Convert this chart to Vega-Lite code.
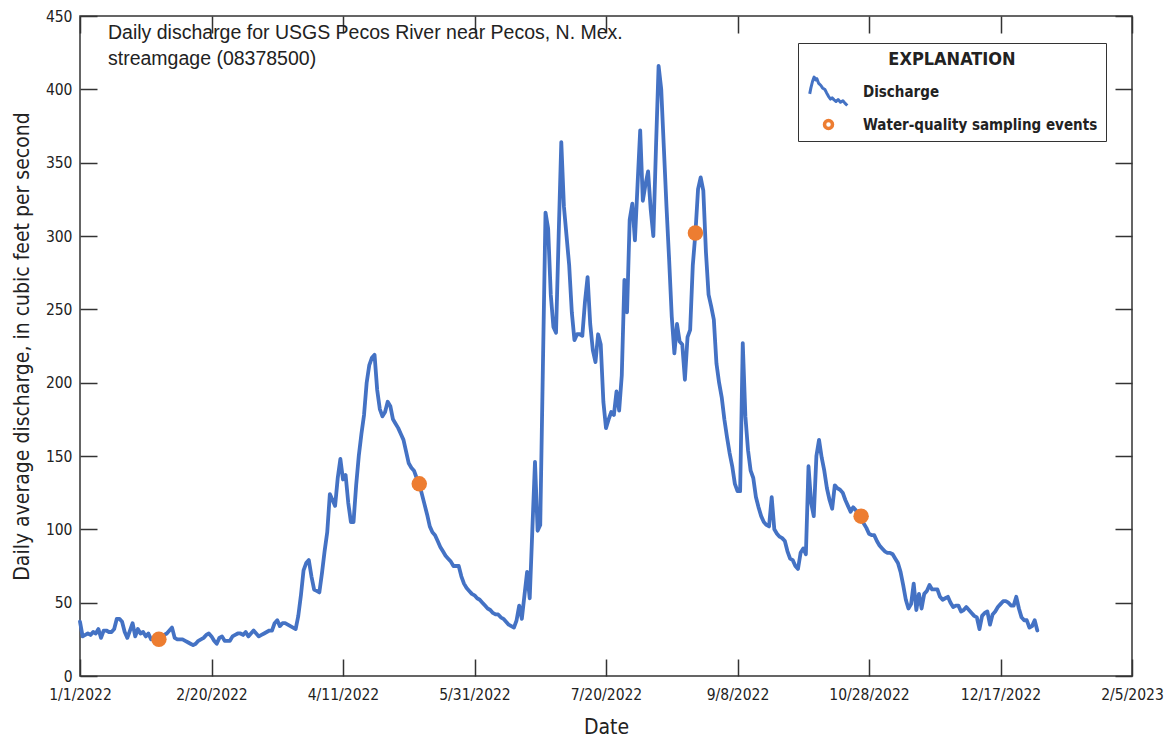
{
  "$schema": "https://vega.github.io/schema/vega-lite/v6.json",
  "width": 1052,
  "height": 660,
  "autosize": {"type": "none"},
  "padding": {"left": 80, "top": 16, "right": 32, "bottom": 62},
  "background": "white",
  "title": {
    "text": ["Daily discharge for USGS Pecos River near Pecos, N. Mex.", "streamgage (08378500)"],
    "anchor": "start",
    "frame": "group",
    "orient": "top",
    "offset": -60,
    "dx": 28,
    "baseline": "top",
    "font": "Liberation Sans",
    "fontSize": 19.5,
    "fontWeight": "normal",
    "color": "#222",
    "lineHeight": 26
  },
  "datasets": {
    "discharge": [
      {"date":"2022-01-01","cfs":37},{"date":"2022-01-02","cfs":27},{"date":"2022-01-03","cfs":28},{"date":"2022-01-04","cfs":29},{"date":"2022-01-05","cfs":28},{"date":"2022-01-06","cfs":30},{"date":"2022-01-07","cfs":29},{"date":"2022-01-08","cfs":32},{"date":"2022-01-09","cfs":26},{"date":"2022-01-10","cfs":31},{"date":"2022-01-11","cfs":31},{"date":"2022-01-12","cfs":30},{"date":"2022-01-13","cfs":30},{"date":"2022-01-14","cfs":32},{"date":"2022-01-15","cfs":39},{"date":"2022-01-16","cfs":39},{"date":"2022-01-17","cfs":37},{"date":"2022-01-18","cfs":30},{"date":"2022-01-19","cfs":26},{"date":"2022-01-20","cfs":31},{"date":"2022-01-21","cfs":36},{"date":"2022-01-22","cfs":27},{"date":"2022-01-23","cfs":32},{"date":"2022-01-24","cfs":29},{"date":"2022-01-25","cfs":30},{"date":"2022-01-26","cfs":27},{"date":"2022-01-27","cfs":29},{"date":"2022-01-28","cfs":25},{"date":"2022-01-29","cfs":26},{"date":"2022-01-30","cfs":25},{"date":"2022-01-31","cfs":25},
      {"date":"2022-02-01","cfs":26},{"date":"2022-02-02","cfs":28},{"date":"2022-02-03","cfs":29},{"date":"2022-02-04","cfs":31},{"date":"2022-02-05","cfs":33},{"date":"2022-02-06","cfs":26},{"date":"2022-02-07","cfs":25},{"date":"2022-02-08","cfs":25},{"date":"2022-02-09","cfs":25},{"date":"2022-02-10","cfs":24},{"date":"2022-02-11","cfs":23},{"date":"2022-02-12","cfs":22},{"date":"2022-02-13","cfs":21},{"date":"2022-02-14","cfs":22},{"date":"2022-02-15","cfs":24},{"date":"2022-02-16","cfs":25},{"date":"2022-02-17","cfs":26},{"date":"2022-02-18","cfs":28},{"date":"2022-02-19","cfs":29},{"date":"2022-02-20","cfs":27},{"date":"2022-02-21","cfs":24},{"date":"2022-02-22","cfs":22},{"date":"2022-02-23","cfs":26},{"date":"2022-02-24","cfs":27},{"date":"2022-02-25","cfs":24},{"date":"2022-02-26","cfs":24},{"date":"2022-02-27","cfs":24},{"date":"2022-02-28","cfs":27},
      {"date":"2022-03-01","cfs":28},{"date":"2022-03-02","cfs":29},{"date":"2022-03-03","cfs":29},{"date":"2022-03-04","cfs":28},{"date":"2022-03-05","cfs":30},{"date":"2022-03-06","cfs":27},{"date":"2022-03-07","cfs":29},{"date":"2022-03-08","cfs":31},{"date":"2022-03-09","cfs":29},{"date":"2022-03-10","cfs":27},{"date":"2022-03-11","cfs":28},{"date":"2022-03-12","cfs":29},{"date":"2022-03-13","cfs":30},{"date":"2022-03-14","cfs":31},{"date":"2022-03-15","cfs":31},{"date":"2022-03-16","cfs":36},{"date":"2022-03-17","cfs":38},{"date":"2022-03-18","cfs":34},{"date":"2022-03-19","cfs":36},{"date":"2022-03-20","cfs":36},{"date":"2022-03-21","cfs":35},{"date":"2022-03-22","cfs":34},{"date":"2022-03-23","cfs":33},{"date":"2022-03-24","cfs":32},{"date":"2022-03-25","cfs":41},{"date":"2022-03-26","cfs":55},{"date":"2022-03-27","cfs":72},{"date":"2022-03-28","cfs":77},{"date":"2022-03-29","cfs":79},{"date":"2022-03-30","cfs":68},{"date":"2022-03-31","cfs":59},
      {"date":"2022-04-01","cfs":58},{"date":"2022-04-02","cfs":57},{"date":"2022-04-03","cfs":70},{"date":"2022-04-04","cfs":85},{"date":"2022-04-05","cfs":98},{"date":"2022-04-06","cfs":124},{"date":"2022-04-07","cfs":120},{"date":"2022-04-08","cfs":116},{"date":"2022-04-09","cfs":135},{"date":"2022-04-10","cfs":148},{"date":"2022-04-11","cfs":134},{"date":"2022-04-12","cfs":137},{"date":"2022-04-13","cfs":118},{"date":"2022-04-14","cfs":105},{"date":"2022-04-15","cfs":105},{"date":"2022-04-16","cfs":130},{"date":"2022-04-17","cfs":150},{"date":"2022-04-18","cfs":165},{"date":"2022-04-19","cfs":178},{"date":"2022-04-20","cfs":200},{"date":"2022-04-21","cfs":212},{"date":"2022-04-22","cfs":217},{"date":"2022-04-23","cfs":219},{"date":"2022-04-24","cfs":195},{"date":"2022-04-25","cfs":182},{"date":"2022-04-26","cfs":177},{"date":"2022-04-27","cfs":180},{"date":"2022-04-28","cfs":187},{"date":"2022-04-29","cfs":184},{"date":"2022-04-30","cfs":175},
      {"date":"2022-05-01","cfs":172},{"date":"2022-05-02","cfs":169},{"date":"2022-05-03","cfs":165},{"date":"2022-05-04","cfs":161},{"date":"2022-05-05","cfs":153},{"date":"2022-05-06","cfs":145},{"date":"2022-05-07","cfs":142},{"date":"2022-05-08","cfs":140},{"date":"2022-05-09","cfs":135},{"date":"2022-05-10","cfs":131},{"date":"2022-05-11","cfs":124},{"date":"2022-05-12","cfs":117},{"date":"2022-05-13","cfs":110},{"date":"2022-05-14","cfs":102},{"date":"2022-05-15","cfs":98},{"date":"2022-05-16","cfs":96},{"date":"2022-05-17","cfs":92},{"date":"2022-05-18","cfs":88},{"date":"2022-05-19","cfs":85},{"date":"2022-05-20","cfs":82},{"date":"2022-05-21","cfs":80},{"date":"2022-05-22","cfs":78},{"date":"2022-05-23","cfs":75},{"date":"2022-05-24","cfs":75},{"date":"2022-05-25","cfs":75},{"date":"2022-05-26","cfs":68},{"date":"2022-05-27","cfs":63},{"date":"2022-05-28","cfs":60},{"date":"2022-05-29","cfs":58},{"date":"2022-05-30","cfs":56},{"date":"2022-05-31","cfs":55},
      {"date":"2022-06-01","cfs":53},{"date":"2022-06-02","cfs":52},{"date":"2022-06-03","cfs":50},{"date":"2022-06-04","cfs":48},{"date":"2022-06-05","cfs":46},{"date":"2022-06-06","cfs":45},{"date":"2022-06-07","cfs":43},{"date":"2022-06-08","cfs":42},{"date":"2022-06-09","cfs":42},{"date":"2022-06-10","cfs":40},{"date":"2022-06-11","cfs":39},{"date":"2022-06-12","cfs":37},{"date":"2022-06-13","cfs":35},{"date":"2022-06-14","cfs":34},{"date":"2022-06-15","cfs":33},{"date":"2022-06-16","cfs":38},{"date":"2022-06-17","cfs":48},{"date":"2022-06-18","cfs":39},{"date":"2022-06-19","cfs":55},{"date":"2022-06-20","cfs":71},{"date":"2022-06-21","cfs":53},{"date":"2022-06-22","cfs":100},{"date":"2022-06-23","cfs":146},{"date":"2022-06-24","cfs":99},{"date":"2022-06-25","cfs":103},{"date":"2022-06-26","cfs":210},{"date":"2022-06-27","cfs":316},{"date":"2022-06-28","cfs":305},{"date":"2022-06-29","cfs":260},{"date":"2022-06-30","cfs":238},
      {"date":"2022-07-01","cfs":234},{"date":"2022-07-02","cfs":300},{"date":"2022-07-03","cfs":364},{"date":"2022-07-04","cfs":320},{"date":"2022-07-05","cfs":300},{"date":"2022-07-06","cfs":280},{"date":"2022-07-07","cfs":248},{"date":"2022-07-08","cfs":229},{"date":"2022-07-09","cfs":233},{"date":"2022-07-10","cfs":233},{"date":"2022-07-11","cfs":232},{"date":"2022-07-12","cfs":255},{"date":"2022-07-13","cfs":272},{"date":"2022-07-14","cfs":240},{"date":"2022-07-15","cfs":222},{"date":"2022-07-16","cfs":214},{"date":"2022-07-17","cfs":233},{"date":"2022-07-18","cfs":226},{"date":"2022-07-19","cfs":187},{"date":"2022-07-20","cfs":169},{"date":"2022-07-21","cfs":175},{"date":"2022-07-22","cfs":180},{"date":"2022-07-23","cfs":178},{"date":"2022-07-24","cfs":194},{"date":"2022-07-25","cfs":181},{"date":"2022-07-26","cfs":205},{"date":"2022-07-27","cfs":270},{"date":"2022-07-28","cfs":248},{"date":"2022-07-29","cfs":311},{"date":"2022-07-30","cfs":322},{"date":"2022-07-31","cfs":297},
      {"date":"2022-08-01","cfs":335},{"date":"2022-08-02","cfs":372},{"date":"2022-08-03","cfs":324},{"date":"2022-08-04","cfs":335},{"date":"2022-08-05","cfs":344},{"date":"2022-08-06","cfs":318},{"date":"2022-08-07","cfs":300},{"date":"2022-08-08","cfs":360},{"date":"2022-08-09","cfs":416},{"date":"2022-08-10","cfs":400},{"date":"2022-08-11","cfs":360},{"date":"2022-08-12","cfs":320},{"date":"2022-08-13","cfs":284},{"date":"2022-08-14","cfs":245},{"date":"2022-08-15","cfs":220},{"date":"2022-08-16","cfs":240},{"date":"2022-08-17","cfs":228},{"date":"2022-08-18","cfs":226},{"date":"2022-08-19","cfs":202},{"date":"2022-08-20","cfs":231},{"date":"2022-08-21","cfs":236},{"date":"2022-08-22","cfs":280},{"date":"2022-08-23","cfs":302},{"date":"2022-08-24","cfs":332},{"date":"2022-08-25","cfs":340},{"date":"2022-08-26","cfs":331},{"date":"2022-08-27","cfs":289},{"date":"2022-08-28","cfs":260},{"date":"2022-08-29","cfs":252},{"date":"2022-08-30","cfs":243},{"date":"2022-08-31","cfs":213},
      {"date":"2022-09-01","cfs":200},{"date":"2022-09-02","cfs":190},{"date":"2022-09-03","cfs":175},{"date":"2022-09-04","cfs":163},{"date":"2022-09-05","cfs":152},{"date":"2022-09-06","cfs":143},{"date":"2022-09-07","cfs":131},{"date":"2022-09-08","cfs":126},{"date":"2022-09-09","cfs":126},{"date":"2022-09-10","cfs":227},{"date":"2022-09-11","cfs":177},{"date":"2022-09-12","cfs":154},{"date":"2022-09-13","cfs":140},{"date":"2022-09-14","cfs":135},{"date":"2022-09-15","cfs":122},{"date":"2022-09-16","cfs":115},{"date":"2022-09-17","cfs":109},{"date":"2022-09-18","cfs":105},{"date":"2022-09-19","cfs":103},{"date":"2022-09-20","cfs":102},{"date":"2022-09-21","cfs":122},{"date":"2022-09-22","cfs":100},{"date":"2022-09-23","cfs":97},{"date":"2022-09-24","cfs":95},{"date":"2022-09-25","cfs":94},{"date":"2022-09-26","cfs":92},{"date":"2022-09-27","cfs":85},{"date":"2022-09-28","cfs":80},{"date":"2022-09-29","cfs":79},{"date":"2022-09-30","cfs":75},
      {"date":"2022-10-01","cfs":73},{"date":"2022-10-02","cfs":84},{"date":"2022-10-03","cfs":87},{"date":"2022-10-04","cfs":83},{"date":"2022-10-05","cfs":143},{"date":"2022-10-06","cfs":118},{"date":"2022-10-07","cfs":109},{"date":"2022-10-08","cfs":150},{"date":"2022-10-09","cfs":161},{"date":"2022-10-10","cfs":149},{"date":"2022-10-11","cfs":140},{"date":"2022-10-12","cfs":128},{"date":"2022-10-13","cfs":120},{"date":"2022-10-14","cfs":114},{"date":"2022-10-15","cfs":130},{"date":"2022-10-16","cfs":128},{"date":"2022-10-17","cfs":127},{"date":"2022-10-18","cfs":125},{"date":"2022-10-19","cfs":120},{"date":"2022-10-20","cfs":116},{"date":"2022-10-21","cfs":112},{"date":"2022-10-22","cfs":115},{"date":"2022-10-23","cfs":113},{"date":"2022-10-24","cfs":110},{"date":"2022-10-25","cfs":109},{"date":"2022-10-26","cfs":104},{"date":"2022-10-27","cfs":101},{"date":"2022-10-28","cfs":97},{"date":"2022-10-29","cfs":96},{"date":"2022-10-30","cfs":96},{"date":"2022-10-31","cfs":92},
      {"date":"2022-11-01","cfs":89},{"date":"2022-11-02","cfs":87},{"date":"2022-11-03","cfs":85},{"date":"2022-11-04","cfs":84},{"date":"2022-11-05","cfs":84},{"date":"2022-11-06","cfs":83},{"date":"2022-11-07","cfs":80},{"date":"2022-11-08","cfs":77},{"date":"2022-11-09","cfs":71},{"date":"2022-11-10","cfs":62},{"date":"2022-11-11","cfs":52},{"date":"2022-11-12","cfs":46},{"date":"2022-11-13","cfs":49},{"date":"2022-11-14","cfs":63},{"date":"2022-11-15","cfs":45},{"date":"2022-11-16","cfs":56},{"date":"2022-11-17","cfs":46},{"date":"2022-11-18","cfs":56},{"date":"2022-11-19","cfs":58},{"date":"2022-11-20","cfs":62},{"date":"2022-11-21","cfs":59},{"date":"2022-11-22","cfs":59},{"date":"2022-11-23","cfs":59},{"date":"2022-11-24","cfs":54},{"date":"2022-11-25","cfs":52},{"date":"2022-11-26","cfs":53},{"date":"2022-11-27","cfs":54},{"date":"2022-11-28","cfs":50},{"date":"2022-11-29","cfs":47},{"date":"2022-11-30","cfs":48},
      {"date":"2022-12-01","cfs":48},{"date":"2022-12-02","cfs":44},{"date":"2022-12-03","cfs":45},{"date":"2022-12-04","cfs":47},{"date":"2022-12-05","cfs":45},{"date":"2022-12-06","cfs":43},{"date":"2022-12-07","cfs":41},{"date":"2022-12-08","cfs":40},{"date":"2022-12-09","cfs":32},{"date":"2022-12-10","cfs":41},{"date":"2022-12-11","cfs":43},{"date":"2022-12-12","cfs":44},{"date":"2022-12-13","cfs":35},{"date":"2022-12-14","cfs":42},{"date":"2022-12-15","cfs":44},{"date":"2022-12-16","cfs":47},{"date":"2022-12-17","cfs":49},{"date":"2022-12-18","cfs":51},{"date":"2022-12-19","cfs":51},{"date":"2022-12-20","cfs":50},{"date":"2022-12-21","cfs":48},{"date":"2022-12-22","cfs":48},{"date":"2022-12-23","cfs":54},{"date":"2022-12-24","cfs":46},{"date":"2022-12-25","cfs":40},{"date":"2022-12-26","cfs":38},{"date":"2022-12-27","cfs":38},{"date":"2022-12-28","cfs":33},{"date":"2022-12-29","cfs":34},{"date":"2022-12-30","cfs":38},{"date":"2022-12-31","cfs":31}
    ],
    "samples": [
      {"date":"2022-01-31","cfs":25},
      {"date":"2022-05-10","cfs":131},
      {"date":"2022-08-23","cfs":302},
      {"date":"2022-10-25","cfs":109}
    ]
  },
  "layer": [
    {
      "data": {"name": "discharge"},
      "mark": {"type": "line", "strokeWidth": 3.8, "strokeJoin": "round", "strokeCap": "round"},
      "encoding": {
        "x": {
          "field": "date", "type": "temporal",
          "scale": {"type": "utc", "domain": [{"year": 2022, "month": 1, "date": 1, "utc": true}, {"year": 2023, "month": 2, "date": 5, "utc": true}]},
          "axis": {
            "orient": "bottom", "title": "Date", "format": "%-m/%-d/%Y",
            "values": [
              {"year": 2022, "month": 1, "date": 1, "utc": true},
              {"year": 2022, "month": 2, "date": 20, "utc": true},
              {"year": 2022, "month": 4, "date": 11, "utc": true},
              {"year": 2022, "month": 5, "date": 31, "utc": true},
              {"year": 2022, "month": 7, "date": 20, "utc": true},
              {"year": 2022, "month": 9, "date": 8, "utc": true},
              {"year": 2022, "month": 10, "date": 28, "utc": true},
              {"year": 2022, "month": 12, "date": 17, "utc": true},
              {"year": 2023, "month": 2, "date": 5, "utc": true}
            ],
            "labelPadding": 28, "titlePadding": 14
          }
        },
        "y": {
          "field": "cfs", "type": "quantitative",
          "scale": {"domain": [0, 450], "nice": false, "zero": true},
          "axis": {
            "orient": "left", "title": "Daily average discharge, in cubic feet per second",
            "values": [0, 50, 100, 150, 200, 250, 300, 350, 400, 450],
            "labelPadding": 25, "titlePadding": 13
          }
        },
        "stroke": {
          "datum": "Discharge", "type": "nominal",
          "scale": {"domain": ["Discharge", "Water-quality sampling events"], "range": ["#4472C4", "#ED7D31"]},
          "legend": {
            "title": "EXPLANATION",
            "orient": "none", "legendX": 718, "legendY": 27,
            "padding": 8, "strokeColor": "#333", "fillColor": "white",
            "titleFont": "DejaVu Sans Condensed, sans-serif",
            "titleFontSize": 18, "titleFontWeight": "bold", "titleColor": "#222",
            "titleAnchor": "middle", "titleAlign": "center", "titlePadding": 15,
            "labelFont": "DejaVu Sans Condensed, sans-serif",
            "labelFontSize": 15, "labelFontWeight": "bold", "labelColor": "#222", "labelLimit": 400,
            "symbolSize": 64, "symbolStrokeWidth": 3.5, "symbolOffset": 15, "labelOffset": 27, "rowPadding": 10,
            "encode": {
              "symbols": {
                "update": {
                  "shape": {"signal": "datum.value === 'Discharge' ? 'M-4.7,0.6L-4.4,-0.9L-4,-2.5L-3.6,-3.6L-3.2,-2.9L-2.9,-3.2L-2.5,-2.1L-1.9,-1.5L-1.5,-0.9L-0.9,-0.5L-0.5,0.3L0,1.2L0.5,1.9L0.9,1.6L1.4,2.1L1.9,2.5L2.4,2L3,2.7L3.6,2.3L4.1,2.9L4.7,3.5' : 'circle'"},
                  "fill": {"signal": "datum.value === 'Discharge' ? 'transparent' : 'white'"},
                  "strokeWidth": {"signal": "datum.value === 'Discharge' ? 3 : 3.5"},
                  "strokeJoin": {"value": "round"},
                  "opacity": {"value": 1}
                }
              }
            }
          }
        }
      }
    },
    {
      "data": {"name": "samples"},
      "mark": {"type": "circle", "fill": "#ED7D31", "size": 240, "strokeWidth": 0, "opacity": 1},
      "encoding": {
        "x": {
          "field": "date", "type": "temporal",
          "scale": {"type": "utc", "domain": [{"year": 2022, "month": 1, "date": 1, "utc": true}, {"year": 2023, "month": 2, "date": 5, "utc": true}]},
          "axis": {
            "orient": "top", "title": null, "labels": false,
            "values": [
              {"year": 2022, "month": 1, "date": 1, "utc": true},
              {"year": 2022, "month": 2, "date": 20, "utc": true},
              {"year": 2022, "month": 4, "date": 11, "utc": true},
              {"year": 2022, "month": 5, "date": 31, "utc": true},
              {"year": 2022, "month": 7, "date": 20, "utc": true},
              {"year": 2022, "month": 9, "date": 8, "utc": true},
              {"year": 2022, "month": 10, "date": 28, "utc": true},
              {"year": 2022, "month": 12, "date": 17, "utc": true},
              {"year": 2023, "month": 2, "date": 5, "utc": true}
            ]
          }
        },
        "y": {
          "field": "cfs", "type": "quantitative",
          "scale": {"domain": [0, 450], "nice": false, "zero": true},
          "axis": {"orient": "right", "title": null, "labels": false, "values": [0, 50, 100, 150, 200, 250, 300, 350, 400, 450]}
        },
        "stroke": {"datum": "Water-quality sampling events", "type": "nominal"}
      }
    }
  ],
  "resolve": {"axis": {"x": "independent", "y": "independent"}},
  "config": {
    "view": {"stroke": "#333", "strokeWidth": 1.5},
    "axis": {
      "domain": false, "grid": false,
      "ticks": true, "tickColor": "#333", "tickWidth": 1.5, "tickSize": -17,
      "labelFont": "DejaVu Sans Condensed, sans-serif",
      "labelFontSize": 15.5, "labelColor": "#222", "labelFlush": false, "labelOverlap": false, "labelBound": false,
      "titleFont": "DejaVu Sans Condensed, sans-serif",
      "titleFontSize": 21, "titleFontWeight": "normal", "titleColor": "#222"
    }
  }
}
